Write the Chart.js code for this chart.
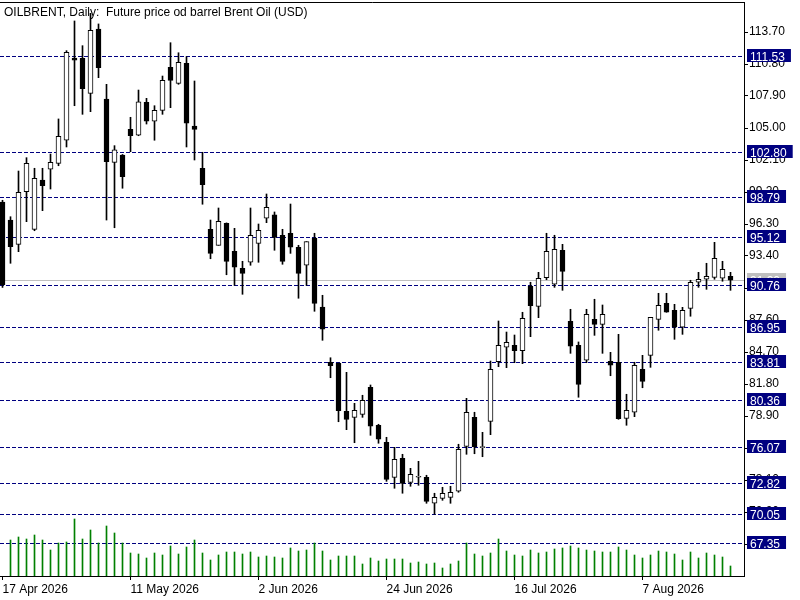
<!DOCTYPE html>
<html><head><meta charset="utf-8">
<script src="https://cdn.jsdelivr.net/npm/chart.js@4.4.1/dist/chart.umd.min.js"></script>
<style>html,body{margin:0;padding:0;background:#fff;overflow:hidden}</style>
</head><body>
<canvas id="c" width="800" height="600"></canvas>
<script>
const chartTitle = 'OILBRENT, Daily:  Future price od barrel Brent Oil (USD)';

const dates = [
 '17 Apr 2026','20 Apr 2026','21 Apr 2026','22 Apr 2026','23 Apr 2026','24 Apr 2026','27 Apr 2026','28 Apr 2026','29 Apr 2026','30 Apr 2026',
 '1 May 2026','4 May 2026','5 May 2026','6 May 2026','7 May 2026','8 May 2026','11 May 2026','12 May 2026','13 May 2026','14 May 2026','15 May 2026',
 '18 May 2026','19 May 2026','20 May 2026','21 May 2026','22 May 2026','25 May 2026','26 May 2026','27 May 2026','28 May 2026','29 May 2026',
 '1 Jun 2026','2 Jun 2026','3 Jun 2026','4 Jun 2026','5 Jun 2026','8 Jun 2026','9 Jun 2026','10 Jun 2026','11 Jun 2026','12 Jun 2026',
 '15 Jun 2026','16 Jun 2026','17 Jun 2026','18 Jun 2026','19 Jun 2026','22 Jun 2026','23 Jun 2026','24 Jun 2026','25 Jun 2026','26 Jun 2026',
 '29 Jun 2026','30 Jun 2026','1 Jul 2026','2 Jul 2026','3 Jul 2026','6 Jul 2026','7 Jul 2026','8 Jul 2026','9 Jul 2026','10 Jul 2026',
 '13 Jul 2026','14 Jul 2026','15 Jul 2026','16 Jul 2026','17 Jul 2026','20 Jul 2026','21 Jul 2026','22 Jul 2026','23 Jul 2026','24 Jul 2026',
 '27 Jul 2026','28 Jul 2026','29 Jul 2026','30 Jul 2026','31 Jul 2026','3 Aug 2026','4 Aug 2026','5 Aug 2026','6 Aug 2026','7 Aug 2026',
 '10 Aug 2026','11 Aug 2026','12 Aug 2026','13 Aug 2026','14 Aug 2026','17 Aug 2026','18 Aug 2026','19 Aug 2026','20 Aug 2026','21 Aug 2026',
 '24 Aug 2026'
];

const open = [
 98.29,96.66,94.46,99.23,95.82,100.29,101.26,101.80,103.89,111.34,
 111.32,108.14,113.97,107.63,101.89,102.55,104.88,104.34,107.33,105.61,
 106.60,110.50,109.05,110.86,105.18,101.35,95.82,94.37,96.36,93.83,
 92.29,92.83,94.55,96.82,97.12,95.28,95.46,94.19,92.56,95.03,
 88.78,83.77,83.70,79.33,78.78,79.05,81.50,78.06,76.52,73.34,
 75.07,72.89,73.35,73.34,70.99,71.44,71.53,72.08,76.15,78.78,
 76.03,78.42,83.82,85.13,85.31,84.82,90.68,88.84,91.43,90.84,
 93.92,87.48,85.31,83.95,87.66,87.21,83.86,83.77,78.69,79.24,
 83.13,84.40,87.66,89.11,88.48,86.94,88.66,91.02,91.29,91.47,
 91.38,91.56
];
const high = [
 98.45,96.96,101.10,102.31,101.35,101.35,102.64,105.82,112.01,114.70,
 112.46,115.39,114.43,108.96,103.40,102.60,105.97,108.44,107.69,107.02,
 109.71,112.73,111.82,111.46,109.26,102.80,96.66,97.75,96.40,95.91,
 92.92,97.75,96.30,99.02,97.39,95.82,98.11,94.37,94.70,95.46,
 89.84,84.18,83.70,82.86,80.05,80.78,81.71,78.15,76.97,76.06,
 75.43,74.16,74.79,73.53,71.90,72.44,72.53,76.34,80.50,79.24,
 77.42,83.88,87.51,86.51,86.24,88.30,91.02,91.92,95.46,95.28,
 94.46,88.57,85.61,88.57,89.48,88.96,84.67,86.30,80.87,83.77,
 84.40,87.84,90.02,90.02,89.02,88.75,91.20,91.92,92.74,94.64,
 92.92,91.92
];
const low = [
 90.55,92.74,93.79,96.51,95.69,97.51,99.47,101.58,103.28,107.02,
 106.24,106.48,109.56,96.66,95.96,99.54,102.85,104.30,105.36,103.89,
 106.24,106.84,108.96,103.28,102.10,98.09,93.15,94.37,91.70,90.74,
 89.93,92.56,92.83,96.42,93.92,92.65,93.64,89.57,90.74,88.39,
 85.76,82.37,78.38,77.66,76.48,78.78,77.15,76.43,72.98,72.35,
 71.90,72.53,72.62,70.99,69.99,71.26,70.99,71.99,75.43,75.48,
 75.21,77.21,83.37,83.28,83.73,83.64,86.09,87.81,91.25,90.56,
 90.29,84.58,80.60,83.73,86.21,84.58,82.55,78.60,78.06,78.84,
 81.46,83.31,86.67,88.30,85.85,86.30,87.94,90.56,90.38,91.29,
 91.11,90.29
];
const close = [
 90.77,94.24,99.17,101.80,100.44,99.77,101.89,104.25,111.86,111.14,
 108.56,113.85,110.46,101.95,103.03,100.59,104.30,107.38,105.61,106.60,
 109.32,109.32,110.95,105.43,104.88,99.86,93.64,96.54,92.92,92.38,
 91.83,95.28,95.73,97.81,95.09,92.92,94.19,91.83,94.70,89.11,
 86.76,83.46,79.38,78.60,79.42,80.32,77.97,76.79,73.16,74.98,
 72.80,73.62,73.36,71.17,71.53,71.90,71.99,75.88,79.24,76.12,
 76.05,83.13,85.31,85.58,84.82,87.75,88.90,91.38,93.83,94.01,
 92.01,85.22,81.77,88.12,87.21,88.12,83.50,78.66,79.42,83.50,
 82.04,87.84,88.93,88.30,86.94,88.48,91.02,91.29,91.56,93.19,
 92.20,91.20
];
const volume = [
 null,36,39,37,41,36,26,33,34,57,
 37,46,33,50,43,33,23,22,18,23,
 21,30,22,29,36,23,16,21,24,24,
 22,24,19,20,19,18,28,25,26,33,
 25,16,20,20,20,12,18,15,17,17,
 17,13,14,12,13,8,12,15,33,22,
 20,23,37,25,21,20,26,23,24,27,
 28,30,28,26,25,24,24,29,26,21,
 18,21,25,24,22,16,24,18,23,21,
 19,10
];
const levels = [111.53,102.80,98.79,95.12,90.76,86.95,83.81,80.36,76.07,72.82,70.05,67.35];
const priceTicks = [113.70,110.80,107.90,105.00,102.10,99.20,96.30,93.40,90.50,87.60,84.70,81.80,78.90,76.00,73.10,70.20,67.30];

const FONT = {family:'"Liberation Sans", Arial, sans-serif', size:12};
const NAVY = '#000080';

const idx = dates.map((d,i)=>i);
const bodyData = idx.map(i=>({x:i, y:[open[i], close[i]]}));
const wickData = idx.map(i=>({x:i, y:[low[i], high[i]]}));
const volData = idx.map(i=>({x:i, y:volume[i]}));
const bodyFill = idx.map(i=> close[i] >= open[i] ? '#ffffff' : '#000000');

const noPad = s => { s.paddingTop = 0; s.paddingBottom = 0; s.paddingLeft = 0; s.paddingRight = 0; };

const overlay = {
  id:'overlay',
  beforeDatasetsDraw(chart){
    const {ctx, chartArea:a, scales:{y}} = chart;
    ctx.save();
    ctx.lineWidth = 1;
    const by = Math.round(y.getPixelForValue(close[close.length-1])) + 0.5;
    ctx.strokeStyle = '#c0c0c0';
    ctx.beginPath(); ctx.moveTo(a.left, by); ctx.lineTo(a.right, by); ctx.stroke();
    ctx.strokeStyle = NAVY;
    ctx.setLineDash([4,2]);
    levels.forEach(v=>{
      const py = Math.round(y.getPixelForValue(v)) + 0.5;
      ctx.beginPath(); ctx.moveTo(a.left, py); ctx.lineTo(a.right, py); ctx.stroke();
    });
    ctx.restore();
  },
  afterDraw(chart){
    const {ctx, chartArea:a, scales:{y}} = chart;
    ctx.save();
    ctx.strokeStyle = '#000'; ctx.lineWidth = 1;
    ctx.beginPath(); ctx.moveTo(0, a.top + 0.5); ctx.lineTo(a.right + 0.5, a.top + 0.5); ctx.stroke();
    ctx.font = `${FONT.size}px ${FONT.family}`;
    ctx.fillStyle = '#000'; ctx.textBaseline = 'alphabetic'; ctx.textAlign = 'left';
    ctx.fillText(chartTitle, 4, 16);
    const box = (v, bg, fg) => {
      const py = Math.round(y.getPixelForValue(v));
      const t = v.toFixed(2);
      const w = ctx.measureText(t).width;
      ctx.fillStyle = bg;
      ctx.fillRect(a.right + 3, py - 7, w + 9, 13);
      ctx.fillStyle = fg;
      ctx.fillText(t, a.right + 6, py + 5);
    };
    box(close[close.length-1], '#c0c0c0', '#ffffff');
    levels.forEach(v => box(v, NAVY, '#ffffff'));
    ctx.restore();
  }
};

new Chart(document.getElementById('c'), {
  type:'bar',
  data:{datasets:[
    {label:'body', data:bodyData, backgroundColor:bodyFill, borderColor:'#000', borderWidth:1, borderSkipped:false, barThickness:5, grouped:false, minBarLength:1, yAxisID:'y'},
    {label:'wick', data:wickData, backgroundColor:'#000', borderWidth:0, barThickness:1, grouped:false, yAxisID:'y'},
    {label:'volume', data:volData, backgroundColor:'#008000', borderWidth:0, barThickness:1, grouped:false, yAxisID:'yv'}
  ]},
  options:{
    responsive:false, animation:false, devicePixelRatio:1,
    layout:{padding:{top:2, left:0, right:0, bottom:0}},
    plugins:{legend:{display:false}, tooltip:{enabled:false}, title:{display:false}},
    scales:{
      x:{type:'linear', min:-0.3125, max:92.6875, offset:false,
        afterBuildTicks:s=>{ s.ticks = idx.filter(i=>i%16===0).map(i=>({value:i})); },
        afterFit:s=>{ s.height = 24; noPad(s); },
        ticks:{callback:v=>dates[v], align:'start', maxRotation:0, autoSkip:false, padding:2, color:'#000', font:FONT},
        grid:{drawOnChartArea:false, drawTicks:true, tickLength:4, color:'#000', offset:false},
        border:{display:true, color:'#000'}
      },
      y:{position:'right', min:64.4, max:116.41875,
        afterBuildTicks:s=>{ s.ticks = priceTicks.map(v=>({value:v})); },
        afterFit:s=>{ s.width = 56; noPad(s); },
        ticks:{callback:v=>Number(v).toFixed(2), autoSkip:false, padding:1, color:'#000', font:FONT},
        grid:{drawOnChartArea:false, drawTicks:true, tickLength:4, color:'#000'},
        border:{display:true, color:'#000'}
      },
      yv:{display:false, min:0, max:574}
    }
  },
  plugins:[overlay]
});
</script>
</body></html>
